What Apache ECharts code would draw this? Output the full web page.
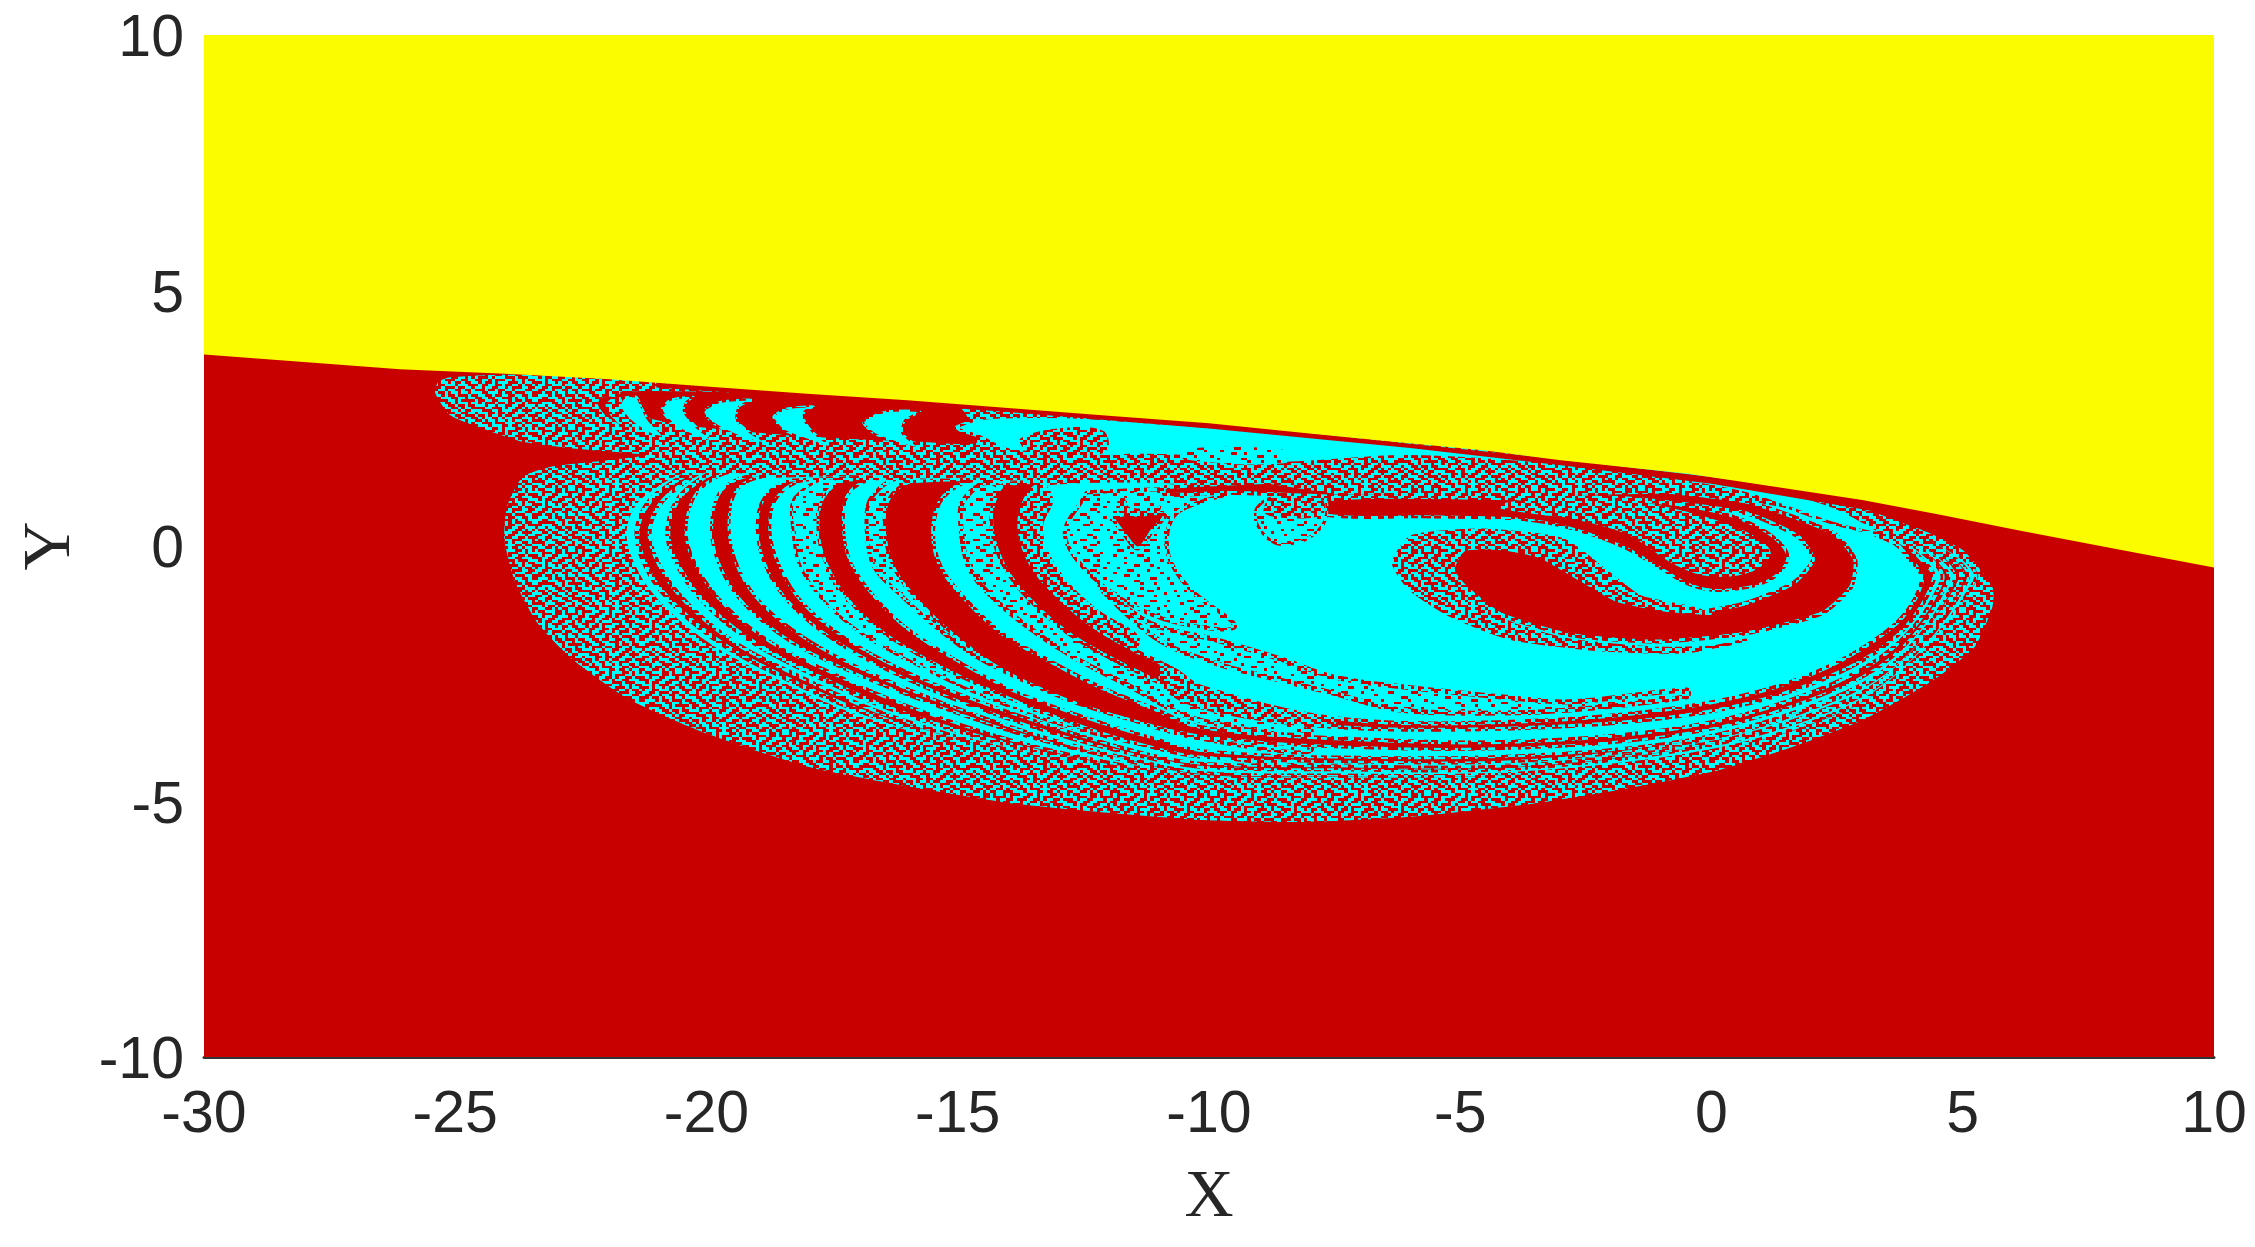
<!DOCTYPE html>
<html><head><meta charset="utf-8">
<style>html,body{margin:0;padding:0;background:#fff}#c{width:2255px;height:1247px}</style>
<script src="https://cdn.jsdelivr.net/npm/echarts@6/dist/echarts.min.js"></script>
</head><body><div id="c"></div>
<script>
// Axis ticks
const xTicks=[-30,-25,-20,-15,-10,-5,0,5,10];
const yTicks=[-10,-5,0,5,10];

// Boundary between the yellow basin and the rest (X,Y)
const boundary=[[-30,3.75],[-26.1,3.46],[-24,3.37],[-22,3.27],[-20,3.12],[-18,2.98],[-16,2.85],[-14,2.7],[-12,2.55],[-10,2.4],[-8,2.2],[-6.33,2.04],[-4.5,1.87],[-3,1.68],[-1.5,1.52],[-0.49,1.42],[1,1.2],[3,0.9],[4.5,0.62],[6.15,0.3],[8,-0.05],[10,-0.42]];
const plotFrame=[[-30,-10],[10,-10],[10,10],[-30,10]];

// Outline of the fractal region
const blob=[[-25.4,3.0],[-25.34,3.21],[-25.1,3.3],[-24,3.35],[-22,3.3],[-18,3.05],[-14,2.75],[-10,2.45],[-6,2.05],[-3,1.7],[0,1.4],[3.25,0.9],[3.25,0.6],[4.2,0.31],[5,-0.08],[5.59,-0.8],[5.59,-1.19],[5.24,-1.97],[4.42,-2.62],[3.02,-3.4],[1.62,-3.93],[0.1,-4.4],[-1.66,-4.74],[-3.53,-5.04],[-5.98,-5.3],[-8.08,-5.4],[-10.2,-5.36],[-11.9,-5.23],[-13.9,-5.04],[-15.95,-4.71],[-17.98,-4.32],[-20,-3.67],[-21.53,-3.01],[-22.65,-2.23],[-23.36,-1.51],[-23.82,-0.67],[-24.02,0.12],[-23.97,0.77],[-23.66,1.35],[-23.05,1.56],[-22.04,1.67],[-21.2,1.78],[-22.65,1.91],[-23.66,2.04],[-24.37,2.27],[-25.1,2.56]];

// Outer thin crescents
const c8=[[-20,1.45],[-21.23,1.03],[-21.63,0.31],[-21.38,-0.54],[-20.82,-1.25],[-19.91,-1.97],[-18.79,-2.56],[-17.17,-3.28],[-14.93,-3.93],[-12.39,-4.45],[-10.18,-4.7],[-8.67,-4.64]];
const r7=[[-19.81,1.45],[-20.97,1.03],[-21.38,0.31],[-21.13,-0.54],[-20.57,-1.22],[-19.65,-1.94],[-18.54,-2.53],[-16.91,-3.24],[-14.73,-3.9],[-12.19,-4.42],[-10.18,-4.65],[-8.67,-4.6]];
const c7=[[-19.6,1.49],[-20.72,1.03],[-21.13,0.31],[-20.87,-0.5],[-20.31,-1.19],[-19.4,-1.91],[-18.28,-2.49],[-16.66,-3.21],[-14.53,-3.86],[-12.09,-4.38],[-10.18,-4.59],[-8.67,-4.55]];
const r6=[[-19.4,1.45],[-20.41,1.09],[-20.77,0.31],[-20.52,-0.47],[-19.96,-1.19],[-19.09,-1.87],[-17.98,-2.46],[-16.35,-3.18],[-14.22,-3.83],[-11.99,-4.32],[-10.18,-4.55],[-8.67,-4.5]];
const c6=[[-19.2,1.42],[-20.11,1.13],[-20.41,0.31],[-20.16,-0.47],[-19.6,-1.19],[-18.74,-1.87],[-17.62,-2.43],[-16.05,-3.11],[-13.92,-3.8],[-11.89,-4.25],[-10.18,-4.48],[-8.67,-4.45]];

// Nested rings of the spiral
const r5=[[-18.99,1.39],[-19.7,1.09],[-19.9,0.31],[-19.7,-0.47],[-19.2,-1.19],[-18.33,-1.87],[-17.27,-2.4],[-15.64,-3.05],[-13.61,-3.73],[-11.68,-4.2],[-10.18,-4.5],[-7.5,-4.55],[-3.99,-4.51],[-0.49,-4.14],[1.85,-3.57],[3.6,-2.69],[5.32,-0.67],[5.03,-0.21],[3.6,0.5],[1.85,0.97],[-0.49,1.32],[-4,1.45],[-10,1.45]];
const c5=[[-18.79,1.36],[-19.4,1.09],[-19.55,0.31],[-19.35,-0.47],[-18.84,-1.19],[-17.98,-1.84],[-16.86,-2.43],[-15.34,-3.05],[-13.31,-3.73],[-11.58,-4.16],[-10.18,-4.43],[-7.5,-4.48],[-3.99,-4.45],[-0.49,-4.09],[1.85,-3.5],[3.6,-2.62],[5.24,-0.67],[4.95,-0.21],[3.6,0.46],[1.85,0.95],[-0.49,1.3],[-4,1.43],[-10,1.43]];
const r4=[[-18.28,1.29],[-18.84,0.96],[-18.99,0.31],[-18.79,-0.47],[-18.28,-1.19],[-17.47,-1.84],[-16.46,-2.4],[-15.03,-3.02],[-13.1,-3.67],[-11.48,-4.09],[-10.18,-4.33],[-7.5,-4.38],[-3.99,-4.37],[-0.49,-3.99],[1.85,-3.4],[3.6,-2.52],[5.1,-0.67],[4.81,-0.21],[3.6,0.42],[1.85,0.92],[-0.49,1.27],[-4,1.4],[-10,1.4]];
const c4=[[-17.98,1.29],[-18.59,0.96],[-18.74,0.31],[-18.54,-0.41],[-18.08,-1.12],[-17.27,-1.78],[-16.15,-2.4],[-14.83,-2.95],[-12.9,-3.6],[-11.38,-4.03],[-10.18,-4.25],[-7.5,-4.3],[-3.99,-4.3],[-0.49,-3.93],[1.85,-3.34],[3.6,-2.46],[5,-0.67],[4.71,-0.21],[3.6,0.38],[1.85,0.9],[-0.49,1.24],[-4,1.38],[-10,1.38]];
const s4=[[-17.37,1.29],[-18.23,0.96],[-18.28,0.31],[-18.13,-0.41],[-17.62,-1.12],[-16.81,-1.78],[-15.8,-2.33],[-14.53,-2.92],[-12.7,-3.57],[-10.18,-4.09],[-8,-4.15]];
const r3=[[-17.17,1.29],[-17.67,0.96],[-17.78,0.31],[-17.62,-0.34],[-17.17,-1.06],[-16.46,-1.71],[-15.54,-2.26],[-14.22,-2.88],[-12.5,-3.54],[-11.18,-3.93],[-10.18,-4.13],[-7.5,-4.22],[-3.99,-4.22],[-0.49,-3.86],[1.85,-3.24],[3.6,-2.36],[4.94,-0.67],[4.65,-0.21],[3.6,0.34],[1.85,0.88],[-0.49,1.22],[-4,1.36],[-10,1.36]];
const c3=[[-16.56,1.32],[-17.17,1.03],[-17.27,0.31],[-17.12,-0.34],[-16.66,-0.99],[-16.05,-1.58],[-15.14,-2.17],[-13.92,-2.82],[-12.29,-3.41],[-11.07,-3.77],[-10.18,-4],[-7.5,-4.13],[-3.99,-4.11],[-0.49,-3.8],[1.85,-3.18],[3.6,-2.3],[4.83,-0.67],[4.54,-0.21],[3.6,0.31],[1.85,0.85],[-0.49,1.2],[-4,1.34],[-10,1.34]];
const s3=[[-16.05,1.29],[-16.71,0.96],[-16.81,0.31],[-16.66,-0.41],[-16.1,-0.99],[-15.44,-1.58],[-14.63,-2.17],[-13.41,-2.75],[-12.09,-3.21],[-10.18,-3.77],[-8,-3.9]];
const r2=[[-15.85,1.26],[-16.35,0.96],[-16.46,0.31],[-16.25,-0.47],[-15.74,-1.12],[-15.03,-1.78],[-14.12,-2.42],[-12.9,-2.98],[-11.68,-3.37],[-10.18,-3.72],[-7.5,-3.93],[-3.99,-3.96],[-0.49,-3.67],[1.85,-3.05],[3.6,-2.17],[4.71,-0.67],[4.42,-0.21],[3.6,0.27],[1.85,0.82],[-0.49,1.17],[-4,1.32],[-10,1.32]];
const c2=[[-14.63,1.29],[-15.29,0.96],[-15.49,0.31],[-15.34,-0.41],[-14.83,-1.06],[-14.12,-1.71],[-13.21,-2.23],[-12.19,-2.75],[-11.18,-3.15],[-10.18,-3.54],[-7.5,-3.76],[-3.99,-3.83],[-0.49,-3.54],[1.85,-2.92],[3.6,-2],[4.59,-0.67],[4.3,-0.21],[3.6,0.22],[1.85,0.78],[-0.49,1.14],[-4,1.3],[-10,1.3]];
const s2=[[-14.27,1.22],[-14.88,0.9],[-14.93,0.31],[-14.78,-0.41],[-14.32,-0.99],[-13.61,-1.58],[-12.7,-2.17],[-11.68,-2.69],[-10.18,-3.41],[-8,-3.55]];
const r1=[[-14.02,1.22],[-14.27,0.9],[-14.32,0.31],[-14.07,-0.41],[-13.56,-1.06],[-12.8,-1.71],[-11.89,-2.23],[-10.97,-2.69],[-10.18,-3.15],[-7.5,-3.54],[-3.99,-3.57],[-0.49,-3.31],[1.85,-2.75],[3.6,-1.84],[4.42,-0.67],[4.13,-0.21],[3.6,0.16],[1.85,0.74],[-0.49,1.1],[-4,1.28],[-10,1.28]];
const c1=[[-13.31,1.22],[-13.66,0.9],[-13.77,0.31],[-13.51,-0.41],[-13,-0.99],[-12.29,-1.58],[-11.48,-2.04],[-10.67,-2.43],[-10.18,-2.75],[-7.5,-3.37],[-3.99,-3.44],[-0.49,-3.14],[1.85,-2.56],[3.6,-1.58],[4.19,-0.67],[3.9,-0.21],[3.6,0.08],[1.85,0.7],[-0.49,1.06],[-4,1.26],[-10,1.26]];
const s1=[[-13.31,1.22],[-13.66,0.9],[-13.77,0.31],[-13.51,-0.41],[-13,-0.99],[-12.29,-1.58],[-11.48,-2.04],[-11.4,-1.75],[-12.2,-1.25],[-12.8,-0.7],[-13.2,-0.1],[-13.3,0.4],[-13.1,0.9]];
const r1Fade=[[-10.9,-2.3],[-10.18,-2.72],[-8.85,-3.01],[-7.53,-3.34],[-7.53,-3.47],[-8.85,-3.34],[-10.18,-3.14],[-10.9,-2.75]];

// Speckled strips inside the large cyan area
const speck0=[[-12.17,-0.8],[-11.17,-1.51],[-9.85,-1.84],[-8.52,-2.23],[-7.53,-2.56],[-6.2,-2.75],[-4.21,-2.95],[-2.82,-3.05],[-0.49,-2.82],[-0.49,-2.95],[-2.82,-3.21],[-4.21,-3.27],[-6.2,-3.21],[-7.53,-2.88],[-8.85,-2.56],[-9.85,-2.3],[-11,-1.84]];
const speck1=[[-12.4,1.05],[-9.6,1.06],[-10.65,0.64],[-10.83,-0.08],[-10.42,-0.8],[-9.48,-1.58],[-10.65,-1.5],[-11.7,-1.06],[-12.52,-0.4],[-12.87,0.25],[-12.52,0.9]];
const wedge=[[-11.88,0.57],[-10.89,0.61],[-11.12,0.31],[-11.41,-0.05],[-11.7,0.25]];
const wedgeArc=[[-11.7,0.96],[-11.59,0.77],[-11.12,0.74],[-10.95,0.8],[-11.05,0.62],[-11.7,0.6],[-11.85,0.8]];

// Central red ring, the eye, the tongue and the inner lobe
const ringEye=[[-10.88,1.15],[-7.5,1.29],[-3.99,1.23],[-1.66,1.13],[0.68,0.87],[2.43,0.25],[2.86,-0.27],[2.78,-0.8],[2.2,-1.32],[0.68,-1.71],[-1.07,-1.87],[-2.82,-1.74],[-4.23,-1.32],[-5.04,-0.66],[-5.22,-0.21],[-4.93,-0.05],[-3.99,-0.01],[-3.17,-0.21],[-2.47,-0.6],[-1.89,-0.99],[-1.07,-1.22],[-0.25,-1.28],[0.68,-1.12],[1.62,-0.73],[2.02,-0.27],[1.73,0.18],[0.68,0.64],[-1.66,0.93],[-3.99,0.97],[-7.5,0.97],[-9.6,1.04],[-10.88,1]];
const core=[[-7.73,0.9],[-3.99,0.93],[-1.66,0.9],[0.1,0.67],[1.09,0.28],[1.52,-0.21],[1.15,-0.67],[0.21,-0.87],[-0.43,-0.76],[-1.07,-0.4],[-1.77,-0.01],[-2.82,0.35],[-3.76,0.52],[-5.74,0.57],[-7.73,0.61]];
const coreSpeck=[[-4.2,0.78],[-3.2,0.92],[-1.89,0.9],[-0.49,0.64],[0.68,0.25],[1.15,-0.14],[0.8,-0.47],[-0.02,-0.57],[-0.72,-0.34],[-1.66,0.25],[-2.82,0.57],[-3.4,0.64]];
const island=[[-9.07,0.7],[-8.78,0.93],[-7.73,0.93],[-7.67,0.57],[-7.85,0.28],[-8.2,0.08],[-8.67,0.05],[-9.02,0.38]];
const islandDense=[[-8.8,0.9],[-7.75,0.9],[-7.75,0.6],[-8.5,0.55],[-8.9,0.65]];
const eyeSpeck=[[-6.33,-0.34],[-5.98,0.18],[-4.46,0.31],[-2.94,0.12],[-2.12,-0.47],[-1.42,-0.99],[-0.49,-1.19],[-0.02,-1.32],[-0.96,-1.25],[-1.89,-1.06],[-2.59,-0.67],[-3.41,-0.21],[-4.23,-0.05],[-4.93,-0.08],[-5.16,-0.54],[-4.69,-1.06],[-3.99,-1.51],[-2.82,-1.84],[-1.07,-2],[0.1,-1.97],[0.68,-1.84],[-0.49,-2.07],[-2.24,-2.03],[-3.99,-1.81],[-5.16,-1.38],[-5.98,-0.86]];

// Speckled strip under the upper lobe
const strip=[[-21,1.84],[-17,1.85],[-13,1.75],[-12.17,1.65],[-8,1.65],[-4,1.6],[-0.5,1.4],[-0.49,1.03],[-3.99,0.98],[-7.5,1.02],[-9,1.25],[-12.17,1.3],[-16,1.38],[-21,1.45]];

// Crescents in the upper lobe
const lobeRed=[[-21.72,3.05],[-15.75,2.89],[-14.9,2.7],[-14.6,2.0],[-15.75,2.01],[-18.4,2.14],[-20.39,2.33],[-21.59,2.6]];
const ur0=[[-22.04,2.95],[-22.19,2.79],[-22.04,2.56],[-21.63,2.3],[-21.89,2.56],[-21.99,2.76],[-21.84,2.92]];
const uc1=[[-21.39,2.92],[-21.65,2.89],[-21.72,2.73],[-21.52,2.46],[-21.12,2.2],[-20.86,2.14],[-21.15,2.46],[-21.3,2.73]];
const uc2=[[-20.26,2.92],[-20.72,2.86],[-20.89,2.66],[-20.59,2.33],[-20.19,2.14],[-19.86,2.04],[-20.2,2.33],[-20.45,2.63],[-20.4,2.82]];
const uc3=[[-19.07,2.86],[-19.73,2.82],[-20.06,2.63],[-19.86,2.4],[-19.33,2.14],[-18.73,1.98],[-19.1,2.2],[-19.4,2.46],[-19.35,2.73]];
const uc4=[[-17.87,2.73],[-18.4,2.69],[-18.67,2.53],[-18.47,2.27],[-17.87,2.04],[-17.47,1.91],[-17.85,2.2],[-18.05,2.46],[-18.05,2.63]];
const uc5=[[-15.75,2.63],[-16.41,2.63],[-16.88,2.43],[-16.61,2.17],[-15.75,1.91],[-16.1,2.2],[-16.05,2.46]];

// Cyan band running under the yellow boundary into the ring
const topBand=[[-15.02,2.33],[-14.49,2.5],[-12.83,2.53],[-10.84,2.4],[-9.18,2.27],[-6.2,2.0],[-1.66,1.62],[0.68,1.26],[2.43,0.77],[3.37,0.25],[2.43,0.44],[0.68,1.03],[-1.66,1.42],[-3.99,1.65],[-6.2,1.75],[-8.52,1.62],[-10.51,1.75],[-11.51,1.78],[-12.04,1.75],[-13.83,1.85],[-14.16,1.94],[-14.56,2.14],[-14.96,2.27]];
const topPatch1=[[-13.76,2.1],[-13,2.3],[-12.1,2.25],[-12.04,1.85],[-13,1.75],[-13.6,1.85]];
const topPatch2=[[-10.5,1.9],[-8.5,1.88],[-8.5,1.62],[-10.5,1.7]];
const boundaryStrip=[[-21,3.2],[-18,3.0],[-14,2.72],[-10,2.42],[-6,2],[-3,1.7],[0,1.35],[3.02,0.92],[5,0.55],[5,0.35],[3,0.72],[0,1.22],[-3,1.58],[-6,1.92],[-10,2.3],[-14,2.62],[-18,2.9],[-21,3.1]];

const RED='#c80000',CYAN='#00ffff',YELLOW='#fcfc00';
const denseTile=[
"10011100101101000110010111001010","11000100100001011100110100011011","01011001110110010001100101100100","00110011000100111011001011001110",
"10100110011010100010111000100011","11101000110011001101000110110100","00101101001001101001011100010110","01100111011100010011001001101001",
"11001000100110110110011010001100","10011011001001000100100110111001","00100101101101110011101001000110","01110100100010011001001100110010",
"11001110011011001100110001011011","10000011010000100110011101001001","00111001011101101000100100110100","01101100100100111011011001100111",
"10010110010110000110001011001010","11001001101001110001101110010001","00110100110011011100100100111011","01100111001000100101101001100100",
"10101001100110010110010110001110","00011100011011001011011010110010","11010010110010110001000111001001","01100101001100011101110010010110"];
const sparseTile=[
"11111001111111001111110011111011","11011111101111111101111111011111","11111110011110111111001111111101","10111111111111110111111011111111",
"11110011011111111111110011101111","11111111111011110111111111111011","11011110011111111110011101111111","11111111110111011111111111011111",
"01111100111111111001111011111110","11111111011110111111111111101111","11100111111111110011011111111111","11111011110111111111111100111011",
"10011111111101111110011111111111","11111101111111111111101110111101","11110011101111001111111111111111","11111111111111110111101111011111",
"11011110011011111111111001111110","11111111111110111101111111110111","01111001111111111111001110111111","11111110111101111011111111111111",
"11100111111111001111111100111011","10111111011111111110111111111111","11111100111110011111110011110111","11110111111111111011111111011111"];

function tile(rows){
  const cv=document.createElement('canvas');
  const w=107,h=61,cols=rows[0].length,n=rows.length;
  cv.width=w;cv.height=h;
  const g=cv.getContext('2d');
  g.fillStyle=RED;g.fillRect(0,0,w,h);
  g.fillStyle=CYAN;
  rows.forEach((r,j)=>{for(let i=0;i<cols;i++){if(r[i]==='1'){
    const x0=Math.round(i*w/cols),x1=Math.round((i+1)*w/cols),y0=Math.round(j*h/n),y1=Math.round((j+1)*h/n);
    g.fillRect(x0,y0,x1-x0,y1-y0);
  }}});
  return {image:cv,repeat:'repeat'};
}
const DENSE=tile(denseTile),SPARSE=tile(sparseTile);

const layer=(pts,fill,lw,smooth)=>({
  type:'custom',coordinateSystem:'cartesian2d',silent:true,animation:false,clip:true,
  encode:{x:0,y:1},data:pts,
  renderItem:(p,api)=>{
    if(p.dataIndex!==0) return null;
    return {type:'polygon',shape:{points:pts.map(q=>api.coord(q)),smooth:smooth||0},
      style:lw?{fill:fill,stroke:DENSE,lineWidth:lw,lineJoin:'round'}:{fill:fill}};
  }
});
const S=0.35;

const layers=[
  layer(plotFrame,RED),
  layer(blob,DENSE,0,0.2),
  layer(c8,CYAN,4,S),layer(r7,RED,5,S),layer(c7,CYAN,4,S),layer(r6,RED,5,S),layer(c6,CYAN,3,S),
  layer(r5,RED,3,S),layer(c5,CYAN,3,S),layer(r4,RED,3,S),layer(c4,CYAN,3,S),layer(s4,SPARSE,3,S),
  layer(r3,RED,3,S),layer(c3,CYAN,3,S),layer(s3,SPARSE,4,S),layer(r2,RED,3,S),layer(c2,CYAN,4,S),layer(s2,SPARSE,5,S),
  layer(r1,RED,4,S),layer(r1Fade,DENSE,4,S),layer(c1,CYAN,4,S),layer(s1,DENSE,0,S),
  layer(speck1,SPARSE,4,S),layer(speck0,SPARSE,5,S),
  layer(wedge,RED,4,S),layer(wedgeArc,DENSE,0,S),
  layer(ringEye,RED,4,0.2),layer(strip,DENSE,0,0),
  layer(core,RED,3,S),layer(coreSpeck,DENSE,3,S),
  layer(island,SPARSE,3,S),layer(islandDense,DENSE,0,S),layer(eyeSpeck,DENSE,3,0.2),
  layer(lobeRed,RED,3,0.2),layer(ur0,RED,2,0.2),
  layer(uc1,CYAN,2,0.25),layer(uc2,CYAN,2,0.25),layer(uc3,CYAN,2,0.25),layer(uc4,CYAN,2,0.25),layer(uc5,CYAN,2,0.25),
  layer(topBand,CYAN,3,0.25),layer(topPatch1,DENSE,0,S),layer(topPatch2,SPARSE,0,S),layer(boundaryStrip,RED,0),
  layer(boundary.concat([[10,10],[-30,10]]),YELLOW)
];

const labelStyle={fontFamily:'"Liberation Sans",Arial,sans-serif',fontSize:59,color:'#262626'};
const nameStyle={fontFamily:'"Liberation Serif",serif',fontSize:68,color:'#262626'};
const chart=echarts.init(document.getElementById('c'),null,{renderer:'canvas'});
chart.setOption({
  animation:false,backgroundColor:'#fff',
  grid:{left:204,top:35,width:2010,height:1022,containLabel:false},
  xAxis:{type:'value',min:xTicks[0],max:xTicks[xTicks.length-1],interval:5,name:'X',nameLocation:'middle',nameGap:107,nameTextStyle:nameStyle,
    axisLine:{show:true,onZero:false,lineStyle:{color:'#333',width:3}},axisTick:{show:false},splitLine:{show:false},
    axisLabel:Object.assign({margin:29,hideOverlap:false,showMinLabel:true,showMaxLabel:true},labelStyle)},
  yAxis:{type:'value',min:yTicks[0],max:yTicks[yTicks.length-1],interval:5,name:'Y',nameLocation:'middle',nameGap:119,nameTextStyle:nameStyle,
    axisLine:{show:false},axisTick:{show:false},splitLine:{show:false},
    axisLabel:Object.assign({margin:20,hideOverlap:false,showMinLabel:true,showMaxLabel:true,verticalAlign:'top',lineHeight:10},labelStyle)},
  series:layers
});
</script></body></html>
